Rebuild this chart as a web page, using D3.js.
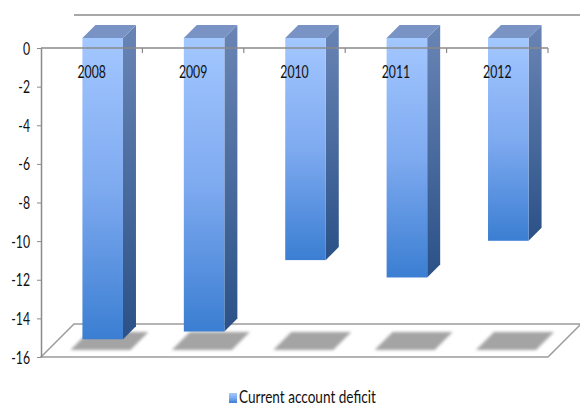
<!DOCTYPE html>
<html>
<head>
<meta charset="utf-8">
<script src="https://d3js.org/d3.v7.min.js"></script>
<style>
  body { margin: 0; background: #fff; }
  text { font-family: Lato, "Open Sans", sans-serif; fill: #111; }
</style>
</head>
<body>
<svg id="chart" width="580" height="405"></svg>
<script>
// data
var years = ['2008', '2009', '2010', '2011', '2012'];
var deficit = [-15.6, -15.2, -11.5, -12.4, -10.5];
var yTicks = [0, -2, -4, -6, -8, -10, -12, -14, -16];
var seriesName = 'Current account deficit';

var svg = d3.select('#chart');
var left = 41, right = 548, top0 = 48, bottom = 357;
var floorDepth = 33;   // oblique depth of floor / back wall
var barOff = 10;       // bar front face depth
var barDepth = 13;     // bar thickness in depth
var sx = 0.72;         // text is drawn narrow like the source

var x = d3.scaleBand().domain(years).range([left, right]);
var y = d3.scaleLinear().domain([-16, 0]).range([bottom, top0]);

var defs = svg.append('defs');
var gFront = defs.append('linearGradient').attr('id', 'front').attr('x1', 0).attr('y1', 0).attr('x2', 0).attr('y2', 1);
gFront.append('stop').attr('offset', 0).attr('stop-color', '#a3c7ff');
gFront.append('stop').attr('offset', 0.5).attr('stop-color', '#7eaaf0');
gFront.append('stop').attr('offset', 1).attr('stop-color', '#3b7ed2');
var gSide = defs.append('linearGradient').attr('id', 'side').attr('x1', 0).attr('y1', 0).attr('x2', 0).attr('y2', 1);
gSide.append('stop').attr('offset', 0).attr('stop-color', '#6985b5');
gSide.append('stop').attr('offset', 1).attr('stop-color', '#2b5187');
defs.append('filter').attr('id', 'blur').attr('x', '-20%').attr('y', '-40%').attr('width', '140%').attr('height', '180%')
  .append('feGaussianBlur').attr('stdDeviation', 1.8);

// back wall top edge
svg.append('line')
  .attr('x1', left + floorDepth).attr('x2', right + floorDepth)
  .attr('y1', y(0) - floorDepth).attr('y2', y(0) - floorDepth)
  .attr('stroke', '#a8a8a8').attr('stroke-width', 2);

// floor
var fy = y(-16);
svg.append('path')
  .attr('d', 'M' + left + ',' + fy + 'L' + right + ',' + fy +
    'L' + (right + floorDepth) + ',' + (fy - floorDepth) +
    'L' + (left + floorDepth) + ',' + (fy - floorDepth) + 'Z')
  .attr('fill', '#fff').attr('stroke', '#9c9c9c').attr('stroke-width', 1.5);

var bw = x.bandwidth() * 0.4;
function bx(d) { return x(d) + x.bandwidth() / 2 + barOff + 1 - bw / 2; }

// shadows on the floor
svg.append('g').selectAll('path').data(years).join('path')
  .attr('d', function(d) {
    var x0 = bx(d) - 12, y0 = fy - 7, h = 18, w = 60;
    return 'M' + x0 + ',' + y0 + 'L' + (x0 + w) + ',' + y0 +
      'L' + (x0 + w + h) + ',' + (y0 - h) + 'L' + (x0 + h) + ',' + (y0 - h) + 'Z';
  })
  .attr('fill', '#a4a4a4').attr('filter', 'url(#blur)');

// bars
var bars = svg.append('g').selectAll('g').data(years).join('g');
bars.append('path')   // side
  .attr('d', function(d, i) {
    var x1 = bx(d) + bw, yt = y(0) - barOff, yb = y(deficit[i]) - barOff;
    return 'M' + x1 + ',' + yt + 'L' + (x1 + barDepth) + ',' + (yt - barDepth) +
      'L' + (x1 + barDepth) + ',' + (yb - barDepth) + 'L' + x1 + ',' + yb + 'Z';
  })
  .attr('fill', 'url(#side)');
bars.append('path')   // top
  .attr('d', function(d) {
    var x0 = bx(d), yt = y(0) - barOff;
    return 'M' + x0 + ',' + yt + 'L' + (x0 + bw) + ',' + yt +
      'L' + (x0 + bw + barDepth) + ',' + (yt - barDepth) + 'L' + (x0 + barDepth) + ',' + (yt - barDepth) + 'Z';
  })
  .attr('fill', '#7893c4');
bars.append('rect')   // front
  .attr('x', function(d) { return bx(d); })
  .attr('y', y(0) - barOff)
  .attr('width', bw)
  .attr('height', function(d, i) { return y(deficit[i]) - y(0); })
  .attr('fill', 'url(#front)');

// category axis line with ticks between categories
svg.append('line')
  .attr('x1', left).attr('x2', right).attr('y1', y(0)).attr('y2', y(0))
  .attr('stroke', '#8a8a8a').attr('stroke-width', 1.5);
svg.append('g').selectAll('line').data(years).join('line')
  .attr('x1', function(d) { return x(d) + x.bandwidth(); })
  .attr('x2', function(d) { return x(d) + x.bandwidth(); })
  .attr('y1', y(0)).attr('y2', y(0) + 5)
  .attr('stroke', '#8a8a8a').attr('stroke-width', 1.2);
svg.append('g').selectAll('text').data(years).join('text')
  .attr('transform', function(d) {
    return 'translate(' + (x(d) + x.bandwidth() / 2) + ',' + (y(0) + 30) + ') scale(' + sx + ',1)';
  })
  .attr('text-anchor', 'middle').style('font-size', '17px')
  .text(function(d) { return d; });

// value axis
var yAxis = svg.append('g')
  .attr('transform', 'translate(' + left + ',0)')
  .call(d3.axisLeft(y).tickValues(yTicks).tickSize(4).tickSizeOuter(0).tickFormat(d3.format('d')));
yAxis.select('.domain').attr('stroke', '#8a8a8a').attr('stroke-width', 1.5);
yAxis.selectAll('.tick line').attr('stroke', '#8a8a8a');
yAxis.selectAll('.tick text')
  .attr('x', null).attr('dy', null)
  .attr('transform', 'translate(-11,6) scale(' + sx + ',1)')
  .style('font-size', '17px').style('font-family', 'Lato, sans-serif').attr('fill', '#111')
  .text(function(d) { return d === 0 ? '0' : '-' + Math.abs(d); });

// legend
var lg = svg.append('g').attr('transform', 'translate(229,393)');
lg.append('rect').attr('width', 8).attr('height', 10).attr('fill', 'url(#front)');
lg.append('text')
  .attr('transform', 'translate(10,9.5) scale(0.8,1)')
  .style('font-size', '17px')
  .text(seriesName);
</script>
</body>
</html>
